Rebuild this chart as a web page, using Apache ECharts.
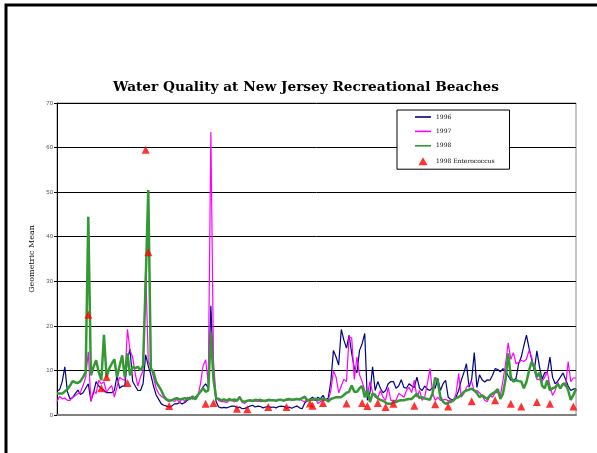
<!DOCTYPE html>
<html>
<head>
<meta charset="utf-8">
<script src="https://cdn.jsdelivr.net/npm/echarts@6/dist/echarts.min.js"></script>
<style>
  html, body { margin: 0; padding: 0; background: #fff; }
  #chart { width: 597px; height: 453px; }
</style>
</head>
<body>
<div id="chart"></div>
<script>
// geometric means per sampling week
const y1996 = [
  5.3, 5.7, 7.5, 10.8, 5.2, 3.6, 3.9, 4.8, 5.6, 4.6,
  5.0, 6.0, 7.0, 3.2, 5.0, 7.5, 6.5, 6.0, 5.5, 5.0,
  5.0, 5.0, 5.5, 8.8, 6.0, 6.5, 6.5, 12.5, 14.8, 7.5,
  6.5, 5.5, 5.5, 7.0, 13.5, 11, 9, 6.5, 4.5, 3.5,
  2.5, 2.2, 2.0, 1.8, 2.0, 2.5, 2.5, 2.8, 2.5, 2.8,
  3.3, 4.0, 3.6, 4.0, 4.5, 5.2, 6.3, 7.0, 6.0, 24.5,
  9.0, 3.0, 1.8, 1.6, 1.7, 1.6, 1.8, 2.0, 2.0, 1.6,
  1.8, 1.4, 1.5, 1.7, 2.0, 2.2, 1.8, 2.0, 1.9, 1.6,
  1.8, 1.9, 1.7, 1.8, 1.6, 1.9, 2.0, 1.9, 1.5, 1.8,
  1.5, 1.8, 2.0, 1.6, 1.4, 2.7, 3.3, 3.6, 4.0, 3.2,
  4.0, 3.6, 4.4, 3.3, 3.8, 7.5, 14.5, 13, 11.2, 19.2,
  16.8, 15, 17.9, 13.8, 10.5, 9.5, 14.5, 16, 18.3, 3.3,
  5.0, 10.8, 5.5, 7.5, 6.0, 5.0, 5.5, 7.0, 7.5, 7.5,
  6.0, 6.5, 7.9, 6.2, 6.0, 7.0, 6.5, 6.2, 8.5, 6.0,
  5.5, 6.5, 5.8, 5.5, 6.2, 6.0, 8.2, 5.5, 7.0, 7.8,
  4.0, 3.5, 3.4, 4.0, 5.5, 7.8, 9.5, 11.5, 6.2, 8.0,
  14.0, 6.2, 9.0, 7.9, 7.4, 7.9, 7.8, 8.9, 10.4, 10.2,
  9.7, 10.4, 10.0, 8.8, 7.8, 7.8, 8.2, 11.5, 13.0, 15.5,
  17.9, 15, 12.5, 10.0, 14.4, 10.8, 8.0, 9.5, 9.5, 13.0,
  8.5, 7.0, 7.6, 8.5, 9.4, 8.0, 6.5, 5.5, 5.8, 5.9
]

const y1997 = [
  3.0, 4.2, 3.6, 3.8, 3.3, 3.3, 4.0, 4.3, 4.8, 5.1,
  6.6, 8.5, 14.2, 3.0, 5.5, 4.8, 7.8, 7.0, 7.4, 5.1,
  6.0, 6.6, 4.0, 6.3, 8.5, 8.0, 7.8, 19.2, 14.5, 13,
  9.3, 6.5, 8.5, 10, 33, 12, 10.8, 8.5, 6.0, 4.8,
  4.2, 3.8, 3.3, 3.0, 3.5, 3.0, 3.5, 2.8, 3.8, 3.0,
  4.0, 3.6, 3.8, 3.6, 4.2, 7.0, 11.0, 12.4, 7.0, 63.5,
  12, 4.0, 3.2, 3.0, 3.0, 2.8, 3.2, 3.3, 3.0, 3.2,
  4.2, 2.8, 2.6, 3.2, 3.2, 3.0, 3.1, 3.1, 3.0, 3.1,
  3.0, 3.2, 3.2, 3.3, 3.3, 3.3, 3.4, 3.2, 3.3, 3.4,
  3.5, 3.4, 3.5, 3.6, 3.2, 3.0, 3.6, 3.4, 3.5, 3.8,
  2.6, 3.0, 3.3, 3.3, 3.3, 5.5, 9.9, 8.5, 5.0, 6.5,
  8.0, 7.5, 17.6, 17.2, 8.0, 13, 9.0, 7.5, 5.5, 4.5,
  7.5, 5.0, 4.0, 3.8, 5.5, 4.0, 3.3, 6.2, 3.3, 3.3,
  3.3, 4.8, 4.5, 4.0, 5.5, 6.2, 5.0, 7.8, 4.0, 5.5,
  3.3, 4.0, 7.0, 10.4, 5.0, 3.3, 4.0, 3.3, 3.4, 3.5,
  3.2, 3.4, 3.1, 4.8, 9.3, 4.0, 4.8, 6.2, 6.8, 7.5,
  5.3, 5.5, 5.0, 4.3, 3.3, 3.0, 4.3, 4.0, 5.0, 5.0,
  4.3, 7.8, 11.5, 16.2, 12.5, 14.0, 11.5, 11.8, 12.3, 12.0,
  12.5, 14.5, 13, 10, 8.0, 8.0, 7.5, 8.5, 9.7, 6.5,
  4.4, 5.5, 7.4, 5.9, 7.0, 6.3, 12.0, 7.5, 8.3, 8.3
]

const y1998 = [
  4.8, 4.8, 4.8, 5.3, 5.8, 6.6, 7.6, 7.3, 7.2, 7.6,
  8.5, 9.6, 44.5, 8.9, 10.8, 12.3, 9.6, 7.8, 18, 8.5,
  10.4, 11.5, 12.5, 8.5, 11, 13.4, 8.5, 13.8, 8.9, 10.8,
  10.5, 10.8, 10, 11, 30, 50.5, 10.4, 9.7, 7.4, 6.5,
  5.5, 4.2, 3.5, 3.2, 3.3, 3.6, 3.8, 3.5, 3.6, 3.8,
  3.6, 3.6, 4.2, 3.5, 4.5, 5.2, 6.0, 5.2, 5.5, 18.5,
  8.0, 3.8, 3.6, 3.3, 3.5, 3.2, 3.6, 3.3, 3.5, 3.2,
  4.0, 3.1, 3.0, 3.2, 3.3, 3.2, 3.4, 3.3, 3.4, 3.2,
  3.2, 3.4, 3.3, 3.3, 3.2, 3.4, 3.4, 3.2, 3.5, 3.6,
  3.4, 3.5, 3.6, 3.5, 3.8, 4.1, 3.2, 3.4, 3.4, 3.6,
  3.3, 3.5, 3.6, 3.5, 3.0, 3.6, 3.8, 4.0, 4.0, 4.0,
  4.5, 5.0, 5.2, 6.6, 5.2, 5.2, 6.0, 6.5, 4.0, 5.5,
  2.9, 4.8, 4.5, 3.7, 3.4, 3.2, 2.8, 2.5, 2.5, 2.9,
  2.9, 3.2, 3.3, 3.3, 3.5, 3.6, 3.6, 4.2, 4.8, 3.8,
  4.0, 3.7, 3.6, 3.4, 4.8, 8.4, 7.5, 4.0, 3.0, 2.5,
  2.8, 2.9, 3.3, 3.8, 4.0, 4.5, 5.2, 5.5, 5.7, 5.9,
  5.5, 4.9, 4.0, 4.4, 4.0, 3.6, 4.4, 4.8, 5.2, 5.8,
  3.6, 4.8, 8.0, 13.8, 8.5, 7.5, 7.8, 7.6, 7.5, 6.0,
  7.4, 10.0, 11.9, 10.8, 8.5, 9.5, 6.6, 6.0, 7.8, 5.5,
  6.0, 6.2, 6.9, 6.0, 7.0, 7.0, 5.5, 3.4, 4.5, 5.9
]

// 1998 enterococcus samples: week index and value
const enteroWeek = [12, 17, 19, 27, 34, 35, 43, 57, 60, 69, 73, 81, 88, 97, 98, 102,
  111, 117, 119, 123, 126, 129, 137, 145, 150, 159, 168, 174, 178, 184, 189, 198]
const enteroVal = [22.5, 6.0, 8.5, 7.2, 59.5, 36.5, 2.0, 2.5, 2.7, 1.4, 1.3, 1.8, 1.8, 2.6, 2.1, 2.7,
  2.6, 2.7, 2.0, 2.7, 1.8, 2.5, 2.1, 2.4, 1.9, 3.1, 3.3, 2.5, 1.9, 2.9, 2.5, 1.9]

const yTicks = [0, 10, 20, 30, 40, 50, 60, 70]

const weeks = y1996.map((v, i) => String(i + 1))
const entero = enteroWeek.map((w, i) => [w, enteroVal[i]])

// thin bar for the line entries, small triangle for the scatter one
const lineIcon = 'path://M0,0 L16,0 L16,1.6 L0,1.6 Z'
const triIcon = 'path://M4,0 L8,7 L0,7 Z'

const chart = echarts.init(document.getElementById('chart'))

const option = {
  animation: false,
  backgroundColor: '#fff',
  title: {
    text: 'Water Quality at New Jersey Recreational Beaches',
    left: 113,
    top: 80,
    padding: 0,
    textStyle: {
      fontFamily: 'DejaVu Serif',
      fontSize: 13.7,
      fontWeight: 'bold',
      color: '#000'
    }
  },
  graphic: [
    {
      type: 'rect',
      silent: true,
      shape: { x: 6, y: 5, width: 700, height: 600 },
      style: { fill: 'none', stroke: '#000', lineWidth: 3 }
    }
  ],
  legend: {
    orient: 'vertical',
    left: 397,
    top: 110,
    padding: [4, 15, 4, 18],
    itemGap: 8.4,
    itemWidth: 16,
    itemHeight: 8,
    symbolKeepAspect: true,
    backgroundColor: '#fff',
    borderColor: '#000',
    borderWidth: 1,
    borderRadius: 0,
    textStyle: { fontFamily: 'DejaVu Serif', fontSize: 6, color: '#000' },
    data: [
      { name: '1996', icon: lineIcon },
      { name: '1997', icon: lineIcon },
      { name: '1998', icon: lineIcon },
      { name: '1998 Enterococcus', icon: triIcon }
    ]
  },
  grid: {
    left: 57,
    top: 103,
    width: 519,
    height: 312,
    show: true,
    borderColor: '#8c8c8c',
    borderWidth: 1
  },
  xAxis: {
    type: 'category',
    boundaryGap: false,
    data: weeks,
    axisLine: { lineStyle: { color: '#808080', width: 2 } },
    axisTick: { show: false },
    axisLabel: { show: false },
    splitLine: { show: false }
  },
  yAxis: {
    type: 'value',
    min: yTicks[0],
    max: yTicks[yTicks.length - 1],
    interval: 10,
    name: 'Geometric Mean',
    nameLocation: 'middle',
    nameGap: 15,
    nameRotate: 90,
    nameTextStyle: { fontFamily: 'DejaVu Serif', fontSize: 8, color: '#000' },
    axisLine: { show: true, lineStyle: { color: '#000', width: 1 } },
    axisTick: { show: true, length: 3, lineStyle: { color: '#000' } },
    axisLabel: { fontSize: 6, color: '#555', margin: 4 },
    splitLine: { lineStyle: { color: '#000', width: 1 } }
  },
  series: [
    {
      name: '1996',
      type: 'line',
      data: y1996,
      smooth: false,
      symbol: 'none',
      color: '#000080',
      lineStyle: { width: 1.2, color: '#000080' }
    },
    {
      name: '1997',
      type: 'line',
      data: y1997,
      smooth: false,
      symbol: 'none',
      color: '#ff00ff',
      lineStyle: { width: 1.2, color: '#ff00ff' }
    },
    {
      name: '1998',
      type: 'line',
      data: y1998,
      smooth: false,
      symbol: 'none',
      color: '#339933',
      lineStyle: { width: 2.5, color: '#339933' }
    },
    {
      name: '1998 Enterococcus',
      type: 'scatter',
      data: entero,
      symbol: 'triangle',
      symbolSize: 8,
      color: '#ff0000',
      itemStyle: { color: '#ff0000' },
      z: 5
    }
  ]
}

chart.setOption(option)
</script>
</body>
</html>
